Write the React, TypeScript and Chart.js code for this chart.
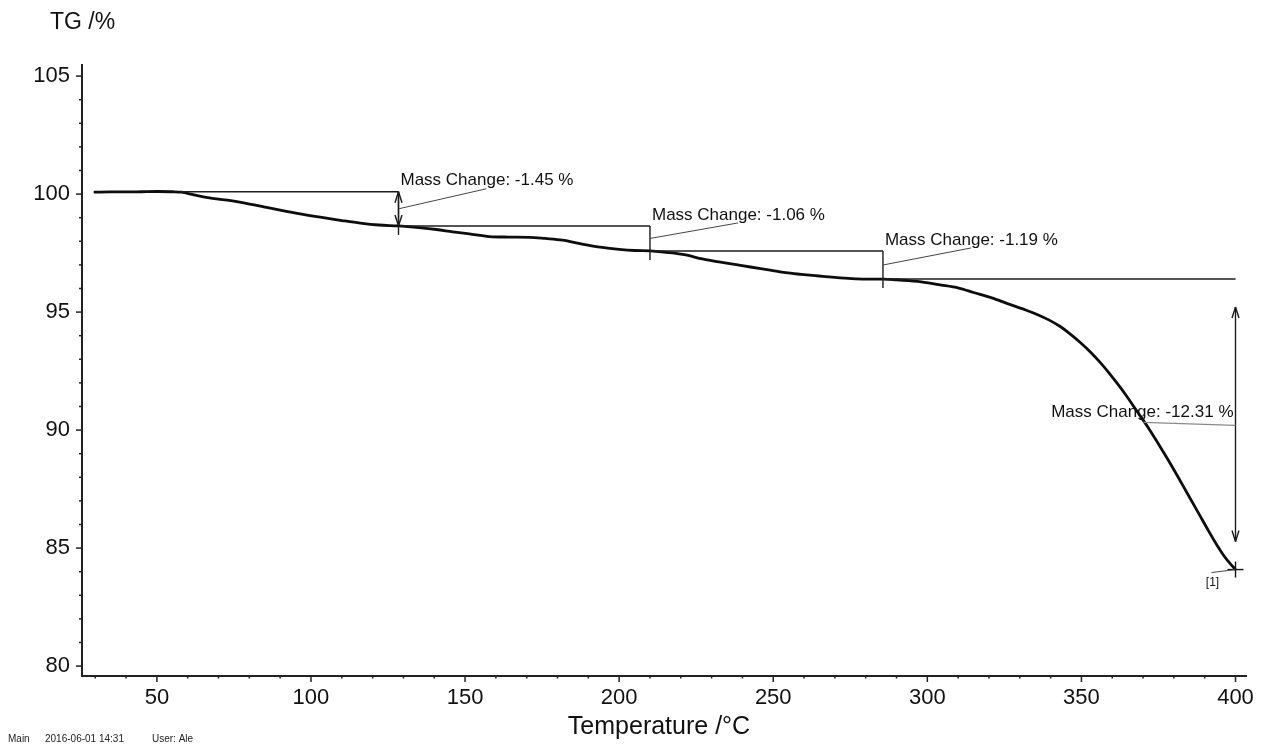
import { useEffect, useRef } from "react";
import { Chart, registerables } from "chart.js";

Chart.register(...registerables);

// Thermogravimetric curve: sample temperature (°C) and remaining mass (%)
const temperature = [
  29.5, 35, 40, 45, 50, 55, 58, 62, 68, 74, 79, 85, 90, 97, 103, 110, 116, 122,
  128.4, 135, 140.7, 146, 151.4, 157.9, 164, 170.9, 176, 181.6, 188, 194.5, 200,
  205, 210, 216, 221.6, 227, 232.4, 238, 243.1, 249, 254, 259, 264.8, 270, 275.5,
  280, 285.6, 290, 294, 299, 303.7, 310.2, 315, 320.9, 326, 331.9, 336, 339.4,
  343, 345.9, 350, 353.3, 356, 358.8, 361.5, 364.3, 368.5, 371.8, 375, 378.3,
  381.5, 384.7, 388, 391.2, 394, 396, 398, 400,
];
const tgPercent = [
  100.08, 100.09, 100.09, 100.1, 100.11, 100.1, 100.08, 99.97, 99.82, 99.72,
  99.61, 99.45, 99.32, 99.15, 99.02, 98.88, 98.77, 98.69, 98.65, 98.58, 98.5,
  98.4, 98.31, 98.2, 98.18, 98.17, 98.12, 98.05, 97.88, 97.74, 97.66, 97.61,
  97.59, 97.52, 97.42, 97.25, 97.13, 97.01, 96.9, 96.78, 96.67, 96.6, 96.53,
  96.47, 96.42, 96.4, 96.4, 96.37, 96.33, 96.26, 96.16, 96.02, 95.83, 95.6,
  95.36, 95.09, 94.88, 94.67, 94.4, 94.12, 93.67, 93.26, 92.88, 92.45, 92.0,
  91.51, 90.71, 90.08, 89.41, 88.7, 87.98, 87.24, 86.48, 85.74, 85.12, 84.72,
  84.38, 84.09,
];

// Axis ticks and the ones that carry a label
const xTickValues = [
  30, 40, 50, 60, 70, 80, 90, 100, 110, 120, 130, 140, 150, 160, 170, 180, 190,
  200, 210, 220, 230, 240, 250, 260, 270, 280, 290, 300, 310, 320, 330, 340, 350,
  360, 370, 380, 390, 400,
];
const xLabelValues = [50, 100, 150, 200, 250, 300, 350, 400];
const yTickValues = [
  80, 81, 82, 83, 84, 85, 86, 87, 88, 89, 90, 91, 92, 93, 94, 95, 96, 97, 98, 99,
  100, 101, 102, 103, 104, 105,
];
const yLabelValues = [80, 85, 90, 95, 100, 105];

// Mass-change evaluation: step temperatures and the mass level between steps
const stepStartTemp = 57.5;
const stepTemps = [128.4, 210.0, 285.6, 400.0];
const stepLevels = [100.1, 98.65, 97.59, 96.4, 84.09];
const endMarkerLabel = "[1]";

const FONT = "'Liberation Sans', Arial, Helvetica, sans-serif";
const INK = "#111111";

function line(ctx: CanvasRenderingContext2D, x1: number, y1: number, x2: number, y2: number) {
  ctx.beginPath();
  ctx.moveTo(x1, y1);
  ctx.lineTo(x2, y2);
  ctx.stroke();
}

function doubleArrow(ctx: CanvasRenderingContext2D, x: number, y1: number, y2: number) {
  line(ctx, x, y1, x, y2);
  const head = Math.min(11, (y2 - y1) / 3);
  line(ctx, x, y1, x - 3.5, y1 + head);
  line(ctx, x, y1, x + 3.5, y1 + head);
  line(ctx, x, y2, x - 3.5, y2 - head);
  line(ctx, x, y2, x + 3.5, y2 - head);
}

const decorations = {
  id: "tgDecorations",
  afterDraw(chart: any) {
    const ctx: CanvasRenderingContext2D = chart.ctx;
    const x = chart.scales.x;
    const y = chart.scales.y;
    const px = (v: number) => x.getPixelForValue(v);
    const py = (v: number) => y.getPixelForValue(v);
    ctx.save();

    // tick marks on both axes
    ctx.strokeStyle = "#222";
    ctx.lineWidth = 1.5;
    for (const t of x.ticks) {
      const xp = px(t.value);
      const major = xLabelValues.includes(t.value);
      line(ctx, xp, x.top, xp, x.top + (major ? 6 : 2.5));
    }
    for (const t of y.ticks) {
      const yp = py(t.value);
      const major = yLabelValues.includes(t.value);
      line(ctx, y.right, yp, y.right - (major ? 6 : 3), yp);
    }

    // mass-change steps
    ctx.font = `17px ${FONT}`;
    ctx.textBaseline = "middle";
    stepTemps.forEach((t, i) => {
      const top = stepLevels[i];
      const bottom = stepLevels[i + 1];
      const from = i === 0 ? stepStartTemp : stepTemps[i - 1];
      const xs = px(t);
      const yTop = py(top);
      const yBot = py(bottom);
      const yMid = py((top + bottom) / 2);
      const last = i === stepTemps.length - 1;
      const text = `Mass Change: ${(bottom - top).toFixed(2)} %`;

      ctx.strokeStyle = "#1c1c1c";
      ctx.lineWidth = 1.4;
      line(ctx, px(from), yTop, xs, yTop);
      if (!last) line(ctx, xs, yTop, xs, yBot + 9);
      const gap = yBot - yTop;
      if (gap > 30) {
        const inset = gap > 100 ? 28 : 0;
        doubleArrow(ctx, xs, yTop + inset, yBot - inset);
      }

      ctx.fillStyle = INK;
      if (!last) {
        ctx.strokeStyle = "#444";
        ctx.lineWidth = 1;
        line(ctx, xs, yMid, xs + 88, yTop - 3);
        ctx.textAlign = "left";
        ctx.fillText(text, xs + 2, yTop - 11);
      } else {
        ctx.strokeStyle = "#8a8a8a";
        ctx.lineWidth = 1.2;
        line(ctx, xs, yMid + 1, xs - 92, yMid - 2);
        ctx.textAlign = "right";
        ctx.fillText(text, xs - 2, yMid - 11.5);
      }
    });

    // end-of-curve marker
    const ex = px(stepTemps[stepTemps.length - 1]);
    const ey = py(stepLevels[stepLevels.length - 1]);
    ctx.strokeStyle = "#111";
    ctx.lineWidth = 1.4;
    line(ctx, ex - 8, ey, ex + 8, ey);
    line(ctx, ex, ey - 8, ex, ey + 8);
    ctx.strokeStyle = "#444";
    ctx.lineWidth = 1;
    line(ctx, ex - 24, ey + 3, ex, ey);
    ctx.font = `12px ${FONT}`;
    ctx.textAlign = "center";
    ctx.fillStyle = INK;
    ctx.fillText(endMarkerLabel, ex - 23, ey + 13);

    // axis captions
    ctx.font = `23px ${FONT}`;
    ctx.textAlign = "left";
    ctx.fillText("TG /%", 50, 23);
    ctx.font = `25px ${FONT}`;
    ctx.textAlign = "center";
    ctx.fillText("Temperature /°C", 659, 727);

    // footer
    ctx.font = `10px ${FONT}`;
    ctx.textAlign = "left";
    ctx.fillStyle = "#222";
    ctx.fillText("Main", 8, 739);
    ctx.fillText("2016-06-01 14:31", 45, 739);
    ctx.fillText("User: Ale", 152, 739);

    ctx.restore();
  },
};

export default function App() {
  const canvasRef = useRef<HTMLCanvasElement>(null);

  useEffect(() => {
    const canvas = canvasRef.current;
    if (!canvas) return;
    const chart = new Chart(canvas, {
      type: "line",
      data: {
        datasets: [
          {
            data: temperature.map((t, i) => ({ x: t, y: tgPercent[i] })),
            borderColor: "#0d0d0d",
            borderWidth: 2.8,
            pointRadius: 0,
            cubicInterpolationMode: "monotone",
            fill: false,
          },
        ],
      },
      options: {
        animation: false,
        responsive: false,
        devicePixelRatio: 1,
        layout: { padding: { top: 65, right: 15, left: 0, bottom: 0 } },
        plugins: {
          legend: { display: false },
          tooltip: { enabled: false },
          title: { display: false },
        },
        scales: {
          x: {
            type: "linear",
            position: "bottom",
            min: 25.7,
            max: 403.6,
            afterBuildTicks: (scale: any) => {
              scale.ticks = xTickValues.map((v) => ({ value: v }));
            },
            afterFit: (scale: any) => {
              scale.height = 71;
            },
            grid: { display: false, drawTicks: false },
            border: { display: true, color: "#222", width: 2 },
            ticks: {
              autoSkip: false,
              maxRotation: 0,
              padding: 9,
              color: INK,
              font: { family: FONT, size: 22 },
              callback: (v: any) => (xLabelValues.includes(Number(v)) ? String(v) : ""),
            },
            title: { display: false },
          },
          y: {
            type: "linear",
            position: "left",
            min: 79.58,
            max: 105.47,
            afterBuildTicks: (scale: any) => {
              scale.ticks = yTickValues.map((v) => ({ value: v }));
            },
            afterFit: (scale: any) => {
              scale.width = 82;
            },
            grid: { display: false, drawTicks: false },
            border: { display: true, color: "#222", width: 2 },
            ticks: {
              autoSkip: false,
              padding: 12,
              color: INK,
              font: { family: FONT, size: 22 },
              callback: (v: any) => (yLabelValues.includes(Number(v)) ? String(v) : ""),
            },
          },
        },
      },
      plugins: [decorations],
    });
    return () => chart.destroy();
  }, []);

  return (
    <div
      style={{
        position: "fixed",
        left: 0,
        top: 0,
        width: 1263,
        height: 747,
        background: "#ffffff",
      }}
    >
      <canvas ref={canvasRef} width={1263} height={747} style={{ display: "block" }} />
    </div>
  );
}
